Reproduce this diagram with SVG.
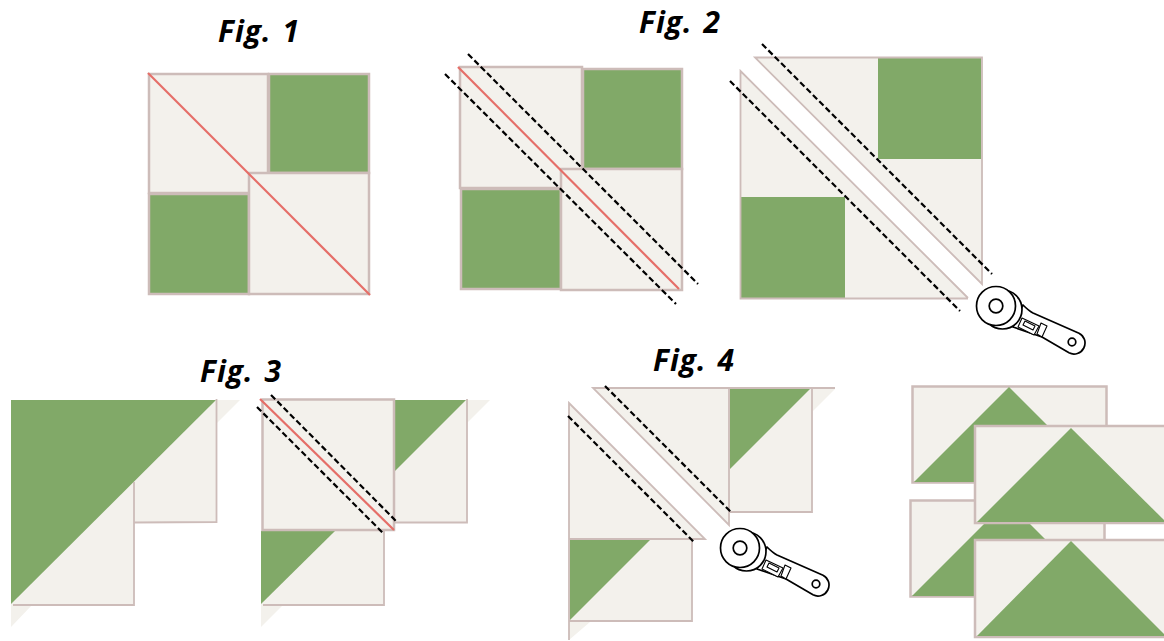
<svg xmlns="http://www.w3.org/2000/svg" width="1164" height="641" viewBox="0 0 1164 641">
<style>
.c{fill:#f3f1ec}
.g{fill:#81a968}
.s{stroke:#cdbcb9;stroke-width:2.500;fill:none}
.t{stroke:#cdbcb9;stroke-width:1.800;fill:none}
.cs{fill:#f3f1ec;stroke:#cdbcb9;stroke-width:2.500}
.r{stroke:#e56e68;stroke-width:2.200;fill:none}
.d{stroke:#000;stroke-width:2.200;stroke-dasharray:6 3;fill:none}
.k{fill:#fff;stroke:#000;stroke-width:1.700;stroke-linejoin:round}
.n{fill:#fff;stroke:#000;stroke-width:1.100;stroke-linejoin:round}
text{font-family:"Open Sans","Liberation Sans",sans-serif;font-style:italic;font-weight:700;font-size:30px;fill:#000;letter-spacing:1px;word-spacing:2px}
</style>
<defs>
<g id="cutter">
<path class="k" d="M27-1C30 2 33 5 37 7L83 27.200A11 11 0 0 1 73 46.800L46 31 17 21Z"/>
<circle class="k" cx="6.500" cy="3.500" r="19.500"/>
<path class="n" d="M26 12L43 20 38 29 22 21Z"/>
<path class="n" d="M29 15L39 20 37 24 27 19Z"/>
<path class="n" d="M45 17L51 20 46 31 41 28Z"/>
<circle class="k" cx="0" cy="0" r="19.500"/>
<circle class="k" cx="0" cy="0" r="6.800"/>
<circle class="k" cx="76" cy="36" r="3.800"/>
</g>
</defs>

<g id="fig1">
<text x="218" y="42">Fig. 1</text>
<rect class="g" x="148" y="73" width="222" height="222"/>
<rect class="cs" x="149" y="74" width="119" height="119"/>
<rect class="s" x="269" y="74" width="100" height="99"/>
<rect class="s" x="149" y="194" width="100" height="100"/>
<rect class="cs" x="249" y="173" width="120" height="121"/>
<path class="r" d="M148 73L370 295"/>
</g>

<g id="fig2a">
<text x="639" y="33">Fig. 2</text>
<rect class="g" x="461" y="68" width="221" height="222"/>
<rect class="cs" x="460" y="67" width="122" height="121"/>
<rect class="s" x="583" y="69" width="99" height="100"/>
<rect class="s" x="461" y="189" width="100" height="100"/>
<rect class="cs" x="561" y="169" width="121" height="121"/>
<path class="r" d="M458 67L679 289"/>
<path class="d" d="M468 54L698 284"/>
<path class="d" d="M445 74L676 304"/>
</g>

<g id="fig2b">
<path class="c" d="M755 57H982V284Z"/>
<path class="c" d="M740 71L968 298H740Z"/>
<rect class="g" x="878" y="58" width="103" height="101"/>
<rect class="g" x="741" y="197" width="104" height="101"/>
<path class="t" d="M755 57.500H982V284Z"/>
<path class="t" d="M968 298.500H740.500V71L968 298"/>
<path class="d" d="M762 44L992 274"/>
<path class="d" d="M730 81L960 311"/>
<use href="#cutter" transform="translate(996 306)"/>
</g>

<g id="fig3a">
<text x="200" y="382">Fig. 3</text>
<path class="c" d="M216 400H240L217 423Z"/>
<path class="c" d="M11 604H33L11 627Z"/>
<path class="c" d="M134 400H217V522H134Z"/>
<path class="c" d="M11 480H134V605H11Z"/>
<path class="g" d="M11 400H216L11 604Z"/>
<path class="t" d="M216.500 399V522L134 522.500M134 482V605H13"/>
</g>

<g id="fig3b">
<path class="c" d="M466 400H490L467 423Z"/>
<path class="c" d="M395 400H467V523H395Z"/>
<path class="g" d="M394 400H466L395 471Z"/>
<path class="t" d="M467 399V522.500H394"/>
<path class="c" d="M261 605H283L261 627Z"/>
<path class="c" d="M261 530H384V605H261Z"/>
<path class="g" d="M261 531H335L261 604Z"/>
<path class="t" d="M384 530V605H263"/>
<rect class="cs" x="262.500" y="399.500" width="131.500" height="130.500"/>
<path class="r" d="M260 399L394 530"/>
<path class="d" d="M271 395L397 522"/>
<path class="d" d="M257 407L384 534"/>
</g>

<g id="fig4a">
<text x="653" y="371">Fig. 4</text>
<path class="c" d="M810 389H835L813 411Z"/>
<path class="c" d="M593 388H812V512H729.500V525Z"/>
<path class="g" d="M730 389H810L730 469Z"/>
<path class="t" d="M835 388H593L729 525V389M729 512H812V389"/>
<path class="d" d="M605 386L732 513"/>
</g>

<g id="fig4b">
<path class="c" d="M569 622H590L569 640Z"/>
<path class="c" d="M569 403L705 539H692V621H569Z"/>
<path class="g" d="M570 540H650L570 620Z"/>
<path class="t" d="M569 640V403L705 539H569M692 539V621H569"/>
<path class="d" d="M568 416L694 542"/>
<use href="#cutter" transform="translate(740 548)"/>
</g>

<g id="geese">
<rect class="cs" x="912.500" y="386.500" width="194" height="96"/>
<path class="g" d="M1009 387L1104 482H914Z"/>
<rect class="cs" x="910.500" y="500.500" width="194" height="96"/>
<path class="g" d="M1007 501L1102 596H912Z"/>
<rect class="cs" x="975" y="426" width="198" height="97"/>
<path class="g" d="M1071 428L1166 522H977Z"/>
<rect class="cs" x="975" y="540" width="198" height="97"/>
<path class="g" d="M1071 541L1166 636H977Z"/>
</g>
</svg>
